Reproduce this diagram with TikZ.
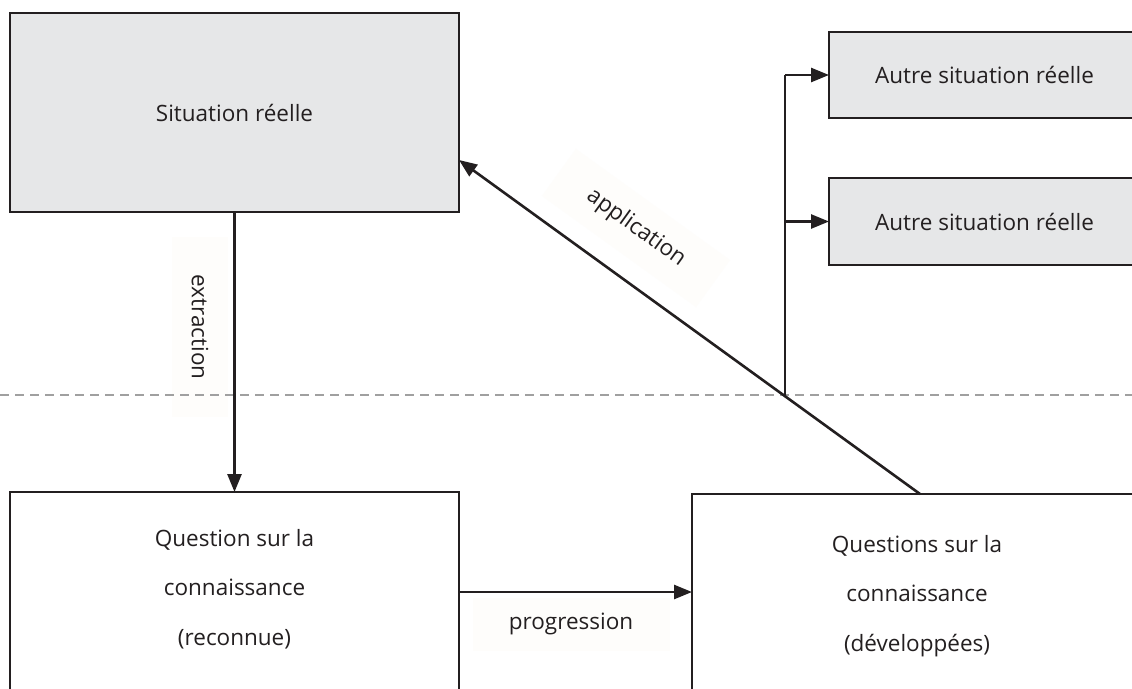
\documentclass[tikz,border=0pt]{standalone}
\usepackage{fontspec}
\setmainfont{Open Sans}
\usetikzlibrary{arrows.meta}
\definecolor{ink}{HTML}{231F20}
\definecolor{boxgray}{HTML}{E6E7E8}
\definecolor{lblbg}{HTML}{FEFDFB}
\definecolor{dashgray}{HTML}{A0A0A0}
\begin{document}
\begin{tikzpicture}[x=1pt,y=-1pt,
  every node/.style={text=ink, font=\fontsize{22.5}{27}\selectfont},
  boxbase/.style={draw=ink, line width=2.6pt, rectangle, inner sep=0pt, outer sep=0pt},
  graybox/.style={boxbase, fill=boxgray},
  whitebox/.style={boxbase, fill=white},
  multiline/.style={align=center, font=\fontsize{22.5}{49.5}\selectfont},
  lbl/.style={fill=lblbg, inner sep=0pt},
  arr/.style={draw=ink, line width=2.6pt, -{Triangle[length=18pt,width=14pt]}},
  conn/.style={draw=ink, line width=2.6pt},
  dashline/.style={draw=dashgray, line width=2.2pt, dash pattern=on 9pt off 6pt}
]
\useasboundingbox (0,0) rectangle (1132,688);
\clip (0,0) rectangle (1132,688);
\fill[white] (0,0) rectangle (1132,688);

% label backgrounds and labels
\node[lbl, minimum width=180pt, minimum height=56pt, rotate=-90] (extr) at (200,327) {extraction};
\node[lbl, minimum width=197pt, minimum height=53pt] (prog) at (571,624) {progression};
\node[lbl, minimum width=190pt, minimum height=58pt, rotate=-35.8] (appl) at (636,228) {application};

% dashed separator
\draw[dashline] (0,395) -- (1132,395);

% boxes
\node[graybox, minimum width=449pt, minimum height=199pt] (sit) at (234.5,112.5) {Situation réelle};
\node[graybox, minimum width=311pt, minimum height=86pt] (a1) at (984.5,75) {Autre situation réelle};
\node[graybox, minimum width=311pt, minimum height=87pt] (a2) at (984.5,221.5) {Autre situation réelle};
\node[whitebox, minimum width=449pt, minimum height=228pt] (q1) at (234.5,606) {};
\node[whitebox, minimum width=468pt, minimum height=226pt] (q2) at (926,607) {};
\node[multiline] (q1t) at (234.5,589) {Question sur la\\connaissance\\(reconnue)};
\node[multiline] (q2t) at (917,596) {Questions sur la\\connaissance\\(développées)};

% connectors
\draw[arr] (sit.south) -- (q1.north);
\draw[arr] (q1.east |- 0,592) -- (q2.west |- 0,592);
\draw[arr] (q2.north -| 920,0) -- (sit.east |- 0,160);
\coordinate (br) at (785,395);
\draw[conn] (br) -- (br |- a1.west);
\draw[arr] (br |- a1.west) -- (a1.west);
\draw[arr] (br |- a2.west) -- (a2.west);
\end{tikzpicture}
\end{document}
